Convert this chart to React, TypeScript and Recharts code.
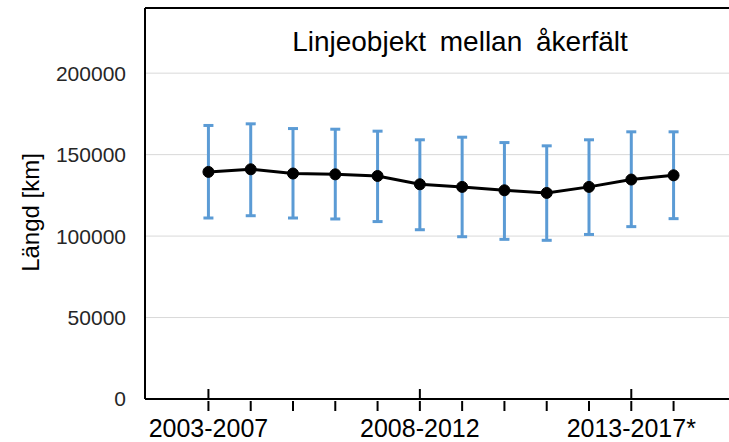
import React from 'react';
import {
  LineChart, Line, XAxis, YAxis, CartesianGrid, ErrorBar, ReferenceLine
} from 'recharts';

// Rolling 5-year inventory periods
const PERIODS = [
  '2003-2007', '2004-2008', '2005-2009', '2006-2010', '2007-2011', '2008-2012',
  '2009-2013', '2010-2014', '2011-2015', '2012-2016', '2013-2017*', '2014-2018'
];
const LABELLED = ['2003-2007', '2008-2012', '2013-2017*'];

const VALUES = [139400, 141000, 138400, 137900, 136900, 131800, 130200, 128100, 126500, 130200, 134700, 137300];
const UPPER = [167900, 168900, 166000, 165600, 164400, 159100, 160700, 157400, 155400, 159100, 164000, 164000];
const LOWER = [111100, 112500, 111100, 110500, 108900, 103900, 99600, 98000, 97400, 101000, 105800, 110700];

const Y_TICKS = [0, 50000, 100000, 150000, 200000];
const Y_MAX = 240000;

const FONT = '"Liberation Sans", Arial, sans-serif';

const data = PERIODS.map((period, i) => ({
  idx: i,
  period,
  value: VALUES[i],
  err: [VALUES[i] - LOWER[i], UPPER[i] - VALUES[i]],
}));

const PeriodTick = (props: any) => {
  const { x, y, payload } = props;
  const period = PERIODS[payload.value];
  const major = LABELLED.includes(period);
  return (
    <g>
      {major && <line x1={x} x2={x} y1={y - 10} y2={y} stroke="#000" strokeWidth={2} />}
      <line x1={x} x2={x} y1={y + 2} y2={y + 12} stroke="#000" strokeWidth={2} />
      {major && (
        <text x={x} y={y + 38} textAnchor="middle" fontSize={25} fill="#000" fontFamily={FONT}>
          {period}
        </text>
      )}
    </g>
  );
};

const AxisTitle = (props: any) => {
  const { viewBox } = props;
  const cx = viewBox.x + 30;
  const cy = viewBox.y + viewBox.height / 2 + 9;
  return (
    <text
      x={cx}
      y={cy}
      transform={`rotate(-90, ${cx}, ${cy})`}
      textAnchor="middle"
      dominantBaseline="central"
      fontSize={24}
      fill="#000"
      fontFamily={FONT}
    >
      Längd [km]
    </text>
  );
};

export default function App() {
  return (
    <div style={{ position: 'absolute', left: 0, top: 0, width: 729, height: 442, overflow: 'hidden', background: '#fff' }}>
      <LineChart width={729} height={442} data={data} margin={{ top: 8, right: -8, bottom: 0, left: 0 }}>
        <CartesianGrid vertical={false} stroke="#d9d9d9" />
        <ReferenceLine y={Y_MAX} stroke="#000" strokeWidth={2} />
        <XAxis
          dataKey="idx"
          type="number"
          domain={[-1.5, 12.5]}
          ticks={data.map(d => d.idx)}
          interval={0}
          height={43}
          tickSize={0}
          tickMargin={0}
          tickLine={false}
          axisLine={{ stroke: '#000', strokeWidth: 2 }}
          tick={<PeriodTick />}
        />
        <YAxis
          type="number"
          domain={[0, Y_MAX]}
          ticks={Y_TICKS}
          width={145}
          tickSize={0}
          tickMargin={19}
          tickLine={false}
          axisLine={{ stroke: '#000', strokeWidth: 2 }}
          tick={{ fontSize: 21, fill: '#262626', fontFamily: FONT }}
          label={{ content: <AxisTitle /> }}
        />
        <Line
          dataKey="value"
          stroke="#000"
          strokeWidth={3}
          dot={{ r: 5.5, fill: '#000', stroke: '#000', strokeWidth: 1 }}
          isAnimationActive={false}
        >
          <ErrorBar dataKey="err" direction="y" stroke="#5b9bd5" strokeWidth={3} width={5} isAnimationActive={false} />
        </Line>
      </LineChart>
      <div
        style={{
          position: 'absolute', left: 210, width: 500, top: 28, textAlign: 'center',
          fontFamily: FONT, fontSize: 28, lineHeight: '28px', color: '#000', wordSpacing: 6,
        }}
      >
        Linjeobjekt mellan åkerfält
      </div>
    </div>
  );
}
